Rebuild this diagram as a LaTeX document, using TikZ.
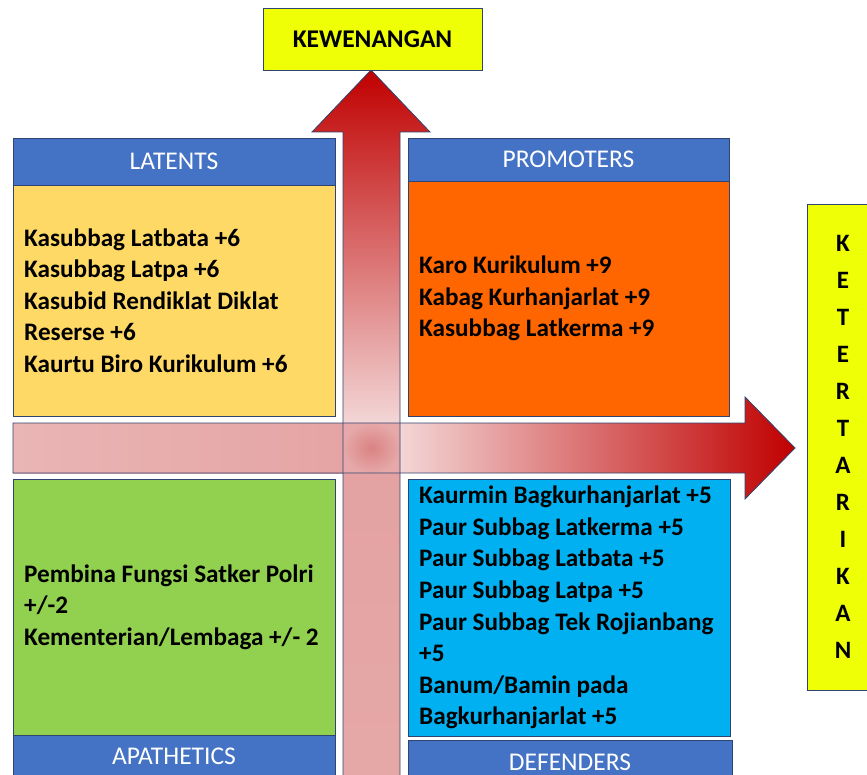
\documentclass[tikz,border=0pt]{standalone}
\usepackage{fontspec}
\setmainfont{Carlito}
\usetikzlibrary{positioning}
\definecolor{kuning}{HTML}{EEFF06}
\definecolor{biru}{HTML}{4472C4}
\definecolor{latent}{HTML}{FFD966}
\definecolor{promoter}{HTML}{FF6600}
\definecolor{apatis}{HTML}{92D050}
\definecolor{defender}{HTML}{00B0F0}
\definecolor{garis}{HTML}{2F4470}
\definecolor{merahtua}{HTML}{C00000}
\definecolor{merahmuda}{HTML}{E6A8A8}
\definecolor{merahekor}{HTML}{EAB5B5}
\definecolor{merahpucat}{HTML}{F3D6D6}
\definecolor{merahsilang}{HTML}{DA8282}

\begin{document}
\begin{tikzpicture}[x=1pt,y=-1pt,
	kotak/.style={draw=garis, line width=0.8pt, inner sep=0pt, outer sep=0pt, anchor=north west},
	judul/.style={kotak, fill=biru, text=white, font=\fontsize{25.5}{30}\selectfont},
	isi/.style={anchor=west, align=left, inner sep=0pt, font=\fontsize{25.2}{31.6}\selectfont\bfseries},
	sumbu/.style={kotak, fill=kuning, font=\fontsize{25.5}{30}\selectfont\bfseries},
	tepi/.style={garis, line width=0.8pt}]
	  \useasboundingbox (0,0) rectangle (867,775);
	  \clip (0,0) rectangle (867,775);
	  % Arrows
	  \draw [white, line width=5pt] (343,810) -- (343,132) -- (312,132) -- (371,70) -- (430,132) -- (400,132) -- (400,810) -- cycle;
	  \draw [white, line width=5pt] (13,423) -- (745,423) -- (745,397) -- (795,448) -- (745,499) -- (745,473) -- (13,473) -- cycle;
	  \shade [top color=merahtua, bottom color=merahpucat] (343,423) -- (343,132) -- (312,132) -- (371,70) -- (430,132) -- (400,132) -- (400,423) -- cycle;
	  \shade [top color=merahmuda!85!merahsilang, bottom color=merahmuda] (343,473) rectangle (400,810);
	  \shade [left color=merahekor, right color=merahmuda!90!merahsilang] (13,423) rectangle (343,473);
	  \shade [left color=merahpucat, right color=merahtua] (400,423) -- (745,423) -- (745,397) -- (795,448) -- (745,499) -- (745,473) -- (400,473) -- cycle;
	  \shade [inner color=merahsilang, outer color=merahmuda] (343,423) rectangle (400,473);
	  \draw [tepi] (343,810) -- (343,132) -- (312,132) -- (371,70) -- (430,132) -- (400,132) -- (400,810) -- cycle;
	  \draw [tepi] (13,423) -- (745,423) -- (745,397) -- (795,448) -- (745,499) -- (745,473) -- (13,473) -- cycle;
	  % Axis labels
	  \node [sumbu, minimum width=219, minimum height=62] (wewenang) at (263,8) {KEWENANGAN};
	  \node [sumbu, minimum width=72, minimum height=486, align=center, font=\fontsize{25}{37}\selectfont\bfseries] (tarik) at (807,204)
	  {K\\E\\T\\E\\R\\T\\A\\R\\I\\K\\A\\N};
	  % Quadrants
	  \node [judul, minimum width=322, minimum height=47] (hlatent) at (13,138) {LATENTS};
	  \node [kotak, fill=latent, minimum width=322, minimum height=231] (latent) at (13,185) {};
	  \node [isi] (tlatent) at ([xshift=11pt]latent.west) {Kasubbag Latbata +6\\Kasubbag Latpa +6\\Kasubid Rendiklat Diklat\\Reserse +6\\Kaurtu Biro Kurikulum +6};
	  \node [judul, minimum width=321, minimum height=43] (hpromoter) at (408,138) {PROMOTERS};
	  \node [kotak, fill=promoter, minimum width=321, minimum height=235] (promoter) at (408,181) {};
	  \node [isi] (tpromoter) at ([xshift=11pt]promoter.west) {Karo Kurikulum +9\\Kabag Kurhanjarlat +9\\Kasubbag Latkerma +9};
	  \node [kotak, fill=apatis, minimum width=322, minimum height=256] (apatis) at (13,479) {};
	  \node [isi] (tapatis) at ([xshift=11pt]apatis.west) {Pembina Fungsi Satker Polri\\+/-2\\Kementerian/Lembaga +/- 2};
	  \node [judul, minimum width=322, minimum height=42] (hapatis) at (13,735) {APATHETICS};
	  \node [kotak, fill=defender, minimum width=322, minimum height=257] (defender) at (408,479) {};
	  \node [isi] (tdefender) at ([xshift=11pt]defender.west) {Kaurmin Bagkurhanjarlat +5\\Paur Subbag Latkerma +5\\Paur Subbag Latbata +5\\Paur Subbag Latpa +5\\Paur Subbag Tek Rojianbang\\+5\\Banum/Bamin pada\\Bagkurhanjarlat +5};
	  \node [judul, minimum width=324, minimum height=44] (hdefender) at (408,740) {DEFENDERS};
	 \end{tikzpicture}
\end{document}
